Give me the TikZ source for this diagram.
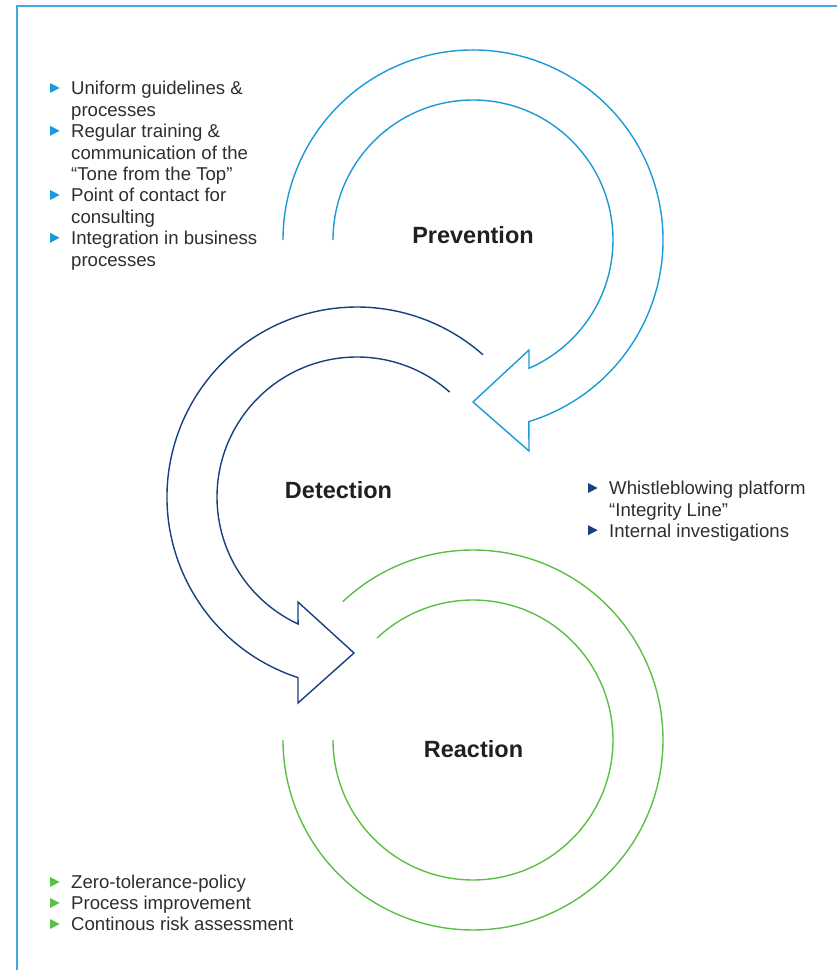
\documentclass[tikz,border=0pt]{standalone}
\usepackage{fontspec}
\setmainfont{Liberation Sans}
\usetikzlibrary{calc}
\definecolor{framec}{HTML}{41A8E0}
\definecolor{prevc}{HTML}{1B9AD8}
\definecolor{detc}{HTML}{17407E}
\definecolor{reac}{HTML}{5CBF45}
\definecolor{txtc}{HTML}{2E2E2E}
\definecolor{headc}{HTML}{231F20}
\begin{document}
\begin{tikzpicture}[x=1pt,y=1pt,
  frame/.style={draw=framec, line width=2.6pt},
  ring/.style={line width=1.4pt, line join=miter},
  head/.style={font=\fontsize{23.5}{28}\selectfont\bfseries, text=headc, inner sep=0pt, anchor=base},
  item/.style={font=\fontsize{18.6}{21.4}\selectfont, text=txtc, inner sep=0pt, anchor=base west},
]
\useasboundingbox (0,0) rectangle (837,970);
% frame
\draw[frame] (17,0) -- (17,964) -- (837,964);

% centres
\coordinate (P) at (473,730);
\coordinate (D) at (357,473);
\coordinate (R) at (473,230);

% Prevention arrow
\coordinate (pin) at ($(P)+(180:140)$);
\coordinate (pout) at ($(P)+(-72.9:190)$);
\coordinate (pbi) at (529,620);
\coordinate (ptip) at (473,568);
\coordinate (pbo) at (529,519);
\draw[ring, draw=prevc] (pin) arc[start angle=180, end angle=-66.4, radius=140]
  -- (pbi) -- (ptip) -- (pbo) -- (pout) arc[start angle=-72.9, end angle=180, radius=190];

% Detection arrow
\coordinate (din) at ($(D)+(48.5:140)$);
\coordinate (dout) at ($(D)+(251.9:190)$);
\coordinate (dbi) at (298,368);
\coordinate (dtip) at (354,317);
\coordinate (dbo) at (298,267);
\draw[ring, draw=detc] (din) arc[start angle=48.5, end angle=245.1, radius=140]
  -- (dbi) -- (dtip) -- (dbo) -- (dout) arc[start angle=251.9, end angle=48.5, radius=190];

% Reaction rings
\coordinate (rin) at ($(R)+(133.3:140)$);
\coordinate (rout) at ($(R)+(133.3:190)$);
\draw[ring, draw=reac] (rin) arc[start angle=133.3, end angle=-180, radius=140];
\draw[ring, draw=reac] (rout) arc[start angle=133.3, end angle=-180, radius=190];

% headings
\node[head] (hp) at (473,726) {Prevention};
\node[head] (hd) at (338.5,471) {Detection};
\node[head] (hr) at (473.5,212) {Reaction};

% Prevention list
\node[item] (p1) at (71,875) {Uniform guidelines \&};
\node[item] (p1b) at (71,853.6) {processes};
\node[item] (p2) at (71,832.2) {Regular training \&};
\node[item] (p2b) at (71,810.8) {communication of the};
\node[item] (p2c) at (71,789.4) {“Tone from the Top”};
\node[item] (p3) at (71,768) {Point of contact for};
\node[item] (p3b) at (71,746.6) {consulting};
\node[item] (p4) at (71,725.2) {Integration in business};
\node[item] (p4b) at (71,703.8) {processes};
\foreach \n in {p1,p2,p3,p4}{
  \fill[prevc] ($(\n.base west)+(-21,2)$) -- ++(0,10) -- ++(9.6,-5) -- cycle;
}

% Detection list
\node[item] (d1) at (609,475) {Whistleblowing platform};
\node[item] (d1b) at (609,453.6) {“Integrity Line”};
\node[item] (d2) at (609,432.8) {Internal investigations};
\foreach \n in {d1,d2}{
  \fill[detc] ($(\n.base west)+(-21,2)$) -- ++(0,10) -- ++(9.6,-5) -- cycle;
}

% Reaction list
\node[item] (r1) at (71,81) {Zero-tolerance-policy};
\node[item] (r2) at (71,60) {Process improvement};
\node[item] (r3) at (71,39) {Continous risk assessment};
\foreach \n in {r1,r2,r3}{
  \fill[reac] ($(\n.base west)+(-21,2)$) -- ++(0,10) -- ++(9.6,-5) -- cycle;
}
\end{tikzpicture}
\end{document}
